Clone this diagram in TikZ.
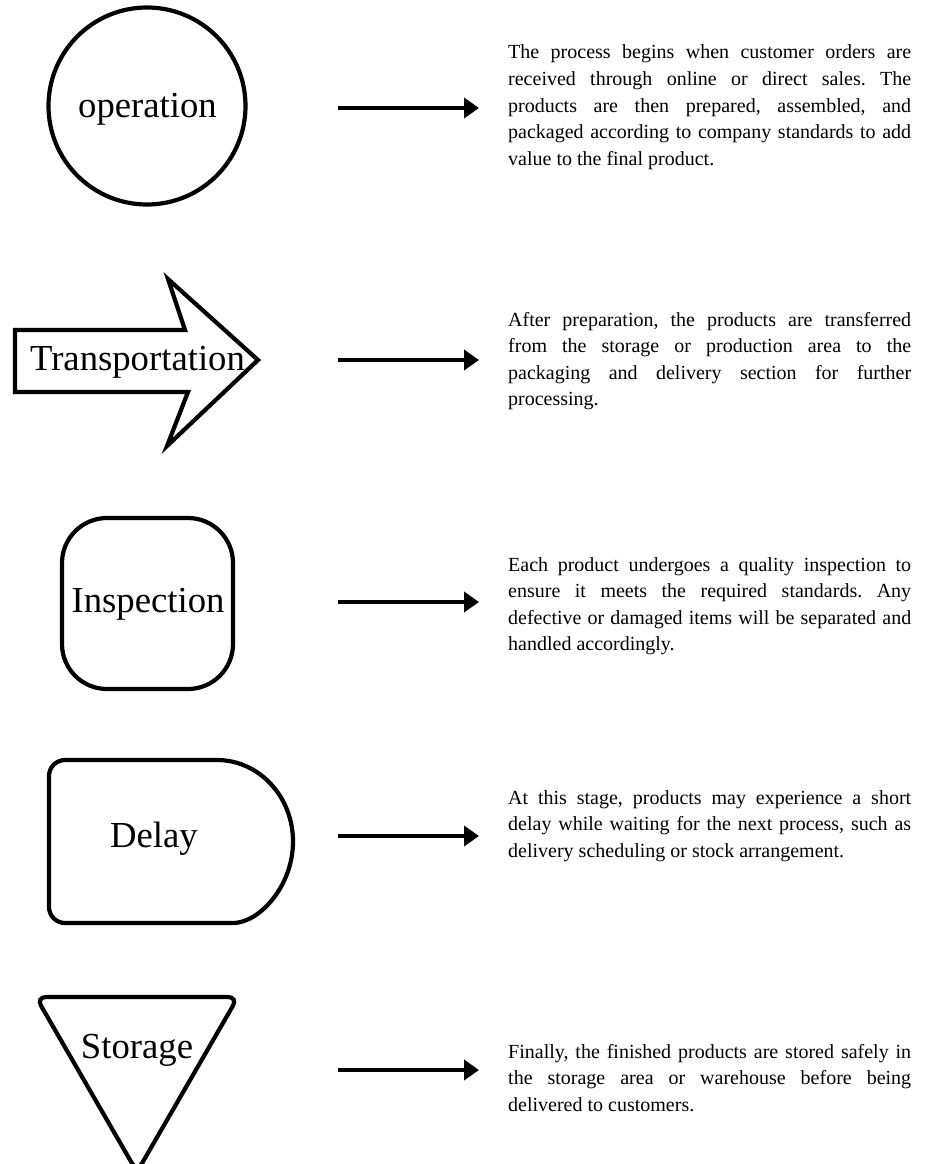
\documentclass[tikz,border=0pt]{standalone}
\usepackage{fontspec}
\setmainfont{Liberation Serif}
\usetikzlibrary{arrows.meta}
\newcommand{\jl}[1]{\makebox[403pt][s]{#1}}
\newcommand{\natsp}{\spaceskip=0pt\xspaceskip=0pt\frenchspacing}
\begin{document}
\begin{tikzpicture}[x=1pt,y=-1pt,
  symb/.style={line width=4.2pt, draw=black},
  lbl/.style={font=\fontsize{36.7}{40}\selectfont, inner sep=0pt, anchor=base},
  para/.style={font=\fontsize{20}{26.6}\selectfont, text width=403pt, align=left, inner sep=0pt, anchor=base west},
  flow/.style={line width=4.5pt, -{Triangle[length=15pt,width=20pt]}}
]
\useasboundingbox (0,0) rectangle (928,1164);
\fill[white] (0,0) rectangle (928,1164);

% shapes
\draw[symb] (147,106) circle[radius=98.5pt];
\draw[symb, line join=miter] (15,330) -- (185,330) -- (168,279) -- (258,360) -- (167,446) -- (188,392) -- (15,392) -- cycle;
\draw[symb, rounded corners=45pt] (62,518) rectangle (233,689);
\draw[symb] (217,923) arc[start angle=-90,end angle=90,x radius=76pt,y radius=81.5pt] [rounded corners=16pt] -- (49,760) -- (49,923) -- cycle;
\draw[symb, rounded corners=10pt] (36,997) -- (238,997) -- (137,1172) -- cycle;

% labels
\node[lbl] (opl) at (147.5,117) {operation};
\node[lbl] (trl) at (137.5,370) {Transportation};
\node[lbl] (insl) at (148,612) {Inspection};
\node[lbl] (dell) at (154,847) {Delay};
\node[lbl] (stol) at (137,1058) {Storage};

% arrows
\coordinate (a1s) at (338,108);  \coordinate (a1e) at (479,108);
\coordinate (a2s) at (338,360);  \coordinate (a2e) at (479,360);
\coordinate (a3s) at (338,602);  \coordinate (a3e) at (479,602);
\coordinate (a4s) at (338,836);  \coordinate (a4e) at (479,836);
\coordinate (a5s) at (338,1070); \coordinate (a5e) at (479,1070);
\draw[flow] (a1s) -- (a1e);
\draw[flow] (a2s) -- (a2e);
\draw[flow] (a3s) -- (a3e);
\draw[flow] (a4s) -- (a4e);
\draw[flow] (a5s) -- (a5e);

% paragraphs
\node[para] (p1) at (508,59) {\natsp\jl{The process begins when customer orders are}\\
\jl{received through online or direct sales. The}\\
\jl{products are then prepared, assembled, and}\\
\jl{packaged according to company standards to add}\\
value to the final product.};
\node[para] (p2) at (508,326) {\natsp\jl{After preparation, the products are transferred}\\
\jl{from the storage or production area to the}\\
\jl{packaging and delivery section for further}\\
processing.};
\node[para] (p3) at (508,571) {\natsp\jl{Each product undergoes a quality inspection to}\\
\jl{ensure it meets the required standards. Any}\\
\jl{defective or damaged items will be separated and}\\
handled accordingly.};
\node[para] (p4) at (508,804) {\natsp\jl{At this stage, products may experience a short}\\
\jl{delay while waiting for the next process, such as}\\
delivery scheduling or stock arrangement.};
\node[para] (p5) at (508,1058) {\natsp\jl{Finally, the finished products are stored safely in}\\
\jl{the storage area or warehouse before being}\\
delivered to customers.};
\end{tikzpicture}
\end{document}
